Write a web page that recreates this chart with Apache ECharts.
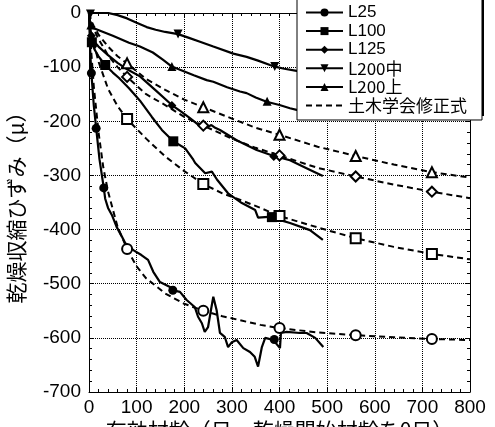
<!DOCTYPE html>
<html>
<head>
<meta charset="utf-8">
<script src="https://cdn.jsdelivr.net/npm/echarts@6/dist/echarts.min.js"></script>
<style>
html, body { margin: 0; padding: 0; background: #fff; }
#root { width: 495px; height: 427px; }
</style>
</head>
<body>
<div id="root"></div>
<script>
// measured curves (days, strain)
var L25 = [[0,0],[1,-30],[3,-80],[5,-111],[10,-170],[15,-212],[22,-270],[31,-323],[34,-343],[40,-360],[48,-373],[58,-395],[69,-413],[76,-425],[93,-438],[110,-447],[124,-456],[135,-478],[149,-497],[170,-506],[191,-515],[205,-530],[222,-543],[229,-561],[237,-573],[243,-589],[250,-580],[256,-549],[261,-524],[268,-549],[275,-591],[285,-598],[292,-617],[300,-608],[310,-604],[324,-619],[338,-626],[348,-635],[355,-653],[363,-617],[370,-600],[387,-604],[401,-619],[403,-591],[415,-589],[443,-591],[457,-591],[475,-600],[492,-617]];
var L25Marks = [[5,-111],[15,-213],[31,-323],[176,-512],[389,-603]];

var L100 = [[0,0],[2,-30],[6,-54],[12,-68],[20,-80],[34,-96],[50,-110],[63,-120],[84,-139],[97,-152],[107,-162],[132,-192],[153,-216],[177,-237],[202,-250],[219,-271],[223,-277],[244,-296],[258,-293],[269,-308],[292,-333],[321,-351],[349,-364],[355,-378],[384,-376],[400,-382],[422,-388],[464,-401],[491,-419]];
var L100Marks = [[6,-54],[34,-96],[177,-237],[384,-377]];

var L125 = [[0,0],[2,-25],[5,-42],[10,-52],[20,-62],[40,-78],[60,-92],[80,-104],[107,-117],[140,-143],[174,-170],[195,-183],[212,-194],[239,-213],[248,-211],[257,-207],[265,-212],[275,-216],[310,-235],[352,-253],[388,-264],[422,-272],[460,-288],[491,-301]];
var L125Marks = [[5,-42],[174,-171],[388,-265]];

var L200mid = [[0,0],[5,0],[20,0],[40,0],[60,-4],[80,-10],[100,-18],[121,-26],[140,-31],[160,-35],[187,-39],[210,-46],[233,-53],[261,-62],[303,-75],[331,-81],[355,-88],[380,-96],[390,-99],[410,-103],[436,-107],[460,-112],[490,-118]];
var L200midMarks = [[3,-2],[187,-39],[390,-99]];

var L200top = [[0,0],[2,-15],[5,-24],[10,-28],[30,-35],[50,-42],[84,-55],[107,-62],[134,-73],[155,-86],[174,-99],[191,-105],[220,-115],[247,-124],[261,-127],[290,-137],[317,-145],[331,-148],[350,-156],[373,-164],[400,-170],[422,-176],[436,-179],[460,-184],[490,-190]];
var L200topMarks = [[4,-22],[174,-99],[374,-163]];

// JSCE revised formula curves
var fit25 = [[0,0],[5,-75],[10,-135],[20,-220],[30,-285],[40,-330],[60,-395],[80,-436],[100,-468],[120,-490],[160,-518],[200,-537],[240,-550],[280,-560],[320,-568],[360,-576],[400,-582],[480,-590],[560,-595],[640,-599],[720,-602],[800,-604]];
var fit100 = [[0,0],[5,-30],[10,-55],[20,-90],[40,-140],[60,-172],[80,-196],[120,-232],[160,-265],[200,-292],[240,-316],[280,-333],[320,-346],[360,-360],[400,-375],[480,-396],[560,-416],[640,-432],[720,-445],[800,-455]];
var fit125 = [[0,0],[5,-18],[10,-30],[20,-48],[40,-78],[60,-100],[80,-118],[120,-150],[160,-170],[200,-192],[240,-208],[300,-232],[350,-249],[400,-263],[480,-286],[560,-302],[640,-317],[720,-330],[800,-342]];
var fit200 = [[0,0],[5,-15],[10,-24],[20,-40],[40,-62],[60,-80],[80,-93],[120,-122],[160,-142],[200,-160],[240,-174],[300,-195],[350,-212],[400,-225],[480,-247],[560,-264],[640,-280],[720,-294],[800,-304]];
var fitMarkX = [80, 240, 400, 560, 720];

var legendNames = ['L25', 'L100', 'L125', 'L200中', 'L200上', '土木学会修正式'];
var xTitle = '有効材齢（日，乾燥開始材齢を0日）';
var yTitle = '乾燥収縮ひずみ（μ）';

var NUM_FONT = 'Liberation Sans, Arial, sans-serif';
var CJK_FONT = 'Noto Sans CJK JP, sans-serif';

// line points get no symbol, marker points keep the series symbol
function build(line, marks) {
    var pts = line.map(function (p) { return { value: p, symbol: 'none' }; });
    marks.forEach(function (p) { pts.push({ value: p }); });
    pts.sort(function (a, b) { return a.value[0] - b.value[0]; });
    return pts;
}
function fitMarks(line) {
    return line.filter(function (p) { return fitMarkX.indexOf(p[0]) >= 0; });
}
function measured(name, line, marks, symbol, size, rotate) {
    return {
        name: name,
        type: 'line',
        data: build(line, marks),
        symbol: symbol,
        symbolSize: size,
        symbolRotate: rotate || 0,
        showSymbol: true,
        lineStyle: { color: '#000', width: 2.2 },
        itemStyle: { color: '#000', borderWidth: 0 }
    };
}
function fitted(line, symbol, size) {
    return {
        name: '土木学会修正式',
        type: 'line',
        data: build(line, fitMarks(line)),
        symbol: symbol,
        symbolSize: size,
        showSymbol: true,
        lineStyle: { color: '#000', width: 2, type: [6, 4] },
        itemStyle: { color: '#000', borderWidth: 1 }
    };
}

function axisCommon(extra) {
    var a = {
        type: 'value',
        axisLine: { show: true, onZero: false, lineStyle: { color: '#000' } },
        axisTick: { show: true, inside: true, length: 5, lineStyle: { color: '#000' } },
        minorTick: { show: true, splitNumber: 5, length: 3, lineStyle: { color: '#000' } }
    };
    for (var k in extra) a[k] = extra[k];
    return a;
}

var chart = echarts.init(document.getElementById('root'));
var option = {
    animation: false,
    grid: { left: 89, right: 25, top: 13, bottom: 35, outerBoundsMode: 'none' },
    // drop shadow of the legend box
    graphic: [{
        type: 'rect', left: 299, top: -4, z: 3, silent: true,
        shape: { width: 185, height: 120 },
        style: { fill: '#000' }
    }],
    legend: {
        orient: 'vertical',
        left: 297,
        top: -6,
        z: 5,
        padding: [10, 15, 6, 8],
        itemWidth: 37,
        itemHeight: 10,
        itemGap: 1.6,
        backgroundColor: '#fff',
        borderColor: '#000',
        borderWidth: 1,
        borderRadius: 0,
        textStyle: { color: '#000', fontSize: 17, lineHeight: 16, fontFamily: NUM_FONT },
        data: legendNames.map(function (n) {
            if (n === '土木学会修正式') {
                return { name: n, itemStyle: { opacity: 0 }, textStyle: { fontFamily: CJK_FONT } };
            }
            return { name: n, textStyle: { fontFamily: n.length > 4 ? CJK_FONT : NUM_FONT } };
        })
    },
    xAxis: [
        axisCommon({
            min: 0, max: 800, interval: 100,
            splitLine: { show: true, lineStyle: { color: '#000', type: 'dotted' } },
            axisLabel: { color: '#000', fontSize: 19, fontFamily: NUM_FONT, margin: 6 },
            name: xTitle, nameLocation: 'middle', nameGap: 28, nameMoveOverlap: false,
            nameTextStyle: { color: '#000', fontSize: 21, fontFamily: CJK_FONT }
        }),
        axisCommon({ min: 0, max: 800, interval: 100, position: 'top', axisLabel: { show: false }, splitLine: { show: false } })
    ],
    yAxis: [
        axisCommon({
            min: -700, max: 0, interval: 100,
            splitLine: { show: true, lineStyle: { color: '#000', type: 'dotted' } },
            axisLabel: { color: '#000', fontSize: 19, fontFamily: NUM_FONT, margin: 8 },
            name: yTitle, nameLocation: 'middle', nameGap: 62, nameMoveOverlap: false,
            nameTextStyle: { color: '#000', fontSize: 21, fontFamily: CJK_FONT }
        }),
        axisCommon({ min: -700, max: 0, interval: 100, position: 'right', axisLabel: { show: false }, splitLine: { show: false } })
    ],
    series: [
        fitted(fit25, 'emptyCircle', 10),
        fitted(fit100, 'emptyRect', 10),
        fitted(fit125, 'emptyDiamond', 10),
        fitted(fit200, 'emptyTriangle', 10),
        measured('L25', L25, L25Marks, 'circle', 9),
        measured('L100', L100, L100Marks, 'rect', 10),
        measured('L125', L125, L125Marks, 'diamond', 9),
        measured('L200中', L200mid, L200midMarks, 'triangle', 9, 180),
        measured('L200上', L200top, L200topMarks, 'triangle', 9)
    ]
};
chart.setOption(option);
</script>
</body>
</html>
